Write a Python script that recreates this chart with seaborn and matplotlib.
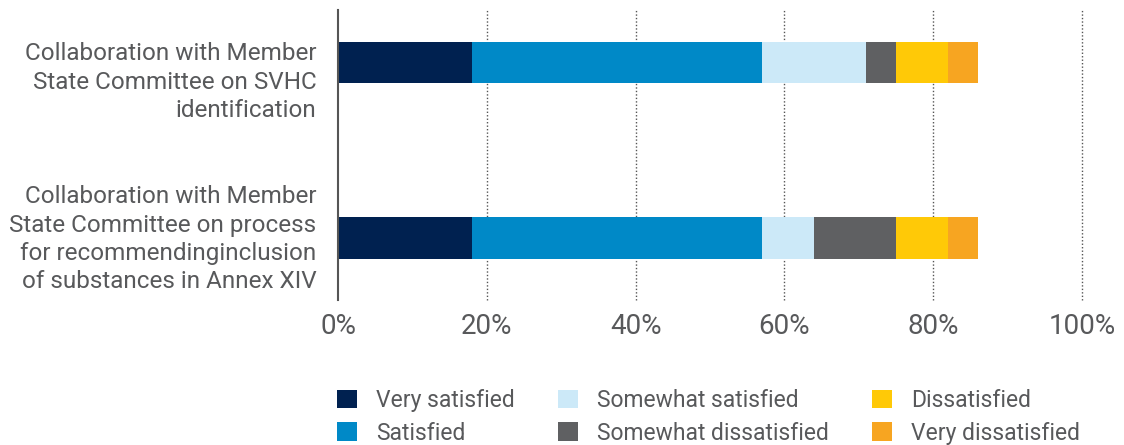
import matplotlib
matplotlib.use("Agg")
import matplotlib.pyplot as plt
from matplotlib.patches import Patch
from matplotlib.transforms import ScaledTranslation
import seaborn as sns
import pandas as pd
import numpy as np

categories = [
    "Collaboration with Member\nState Committee on SVHC\nidentification",
    "Collaboration with Member\nState Committee on process\nfor recommendinginclusion\nof substances in Annex XIV",
]
series_names = ["Very satisfied", "Satisfied", "Somewhat satisfied",
                "Somewhat dissatisfied", "Dissatisfied", "Very dissatisfied"]
very_satisfied = [18, 18]
satisfied = [39, 39]
somewhat_satisfied = [14, 7]
somewhat_dissatisfied = [4, 11]
dissatisfied = [7, 7]
very_dissatisfied = [4, 4]
tick_labels = ["0%", "20%", "40%", "60%", "80%", "100%"]
tick_values = [0, 20, 40, 60, 80, 100]

colors = ["#002150", "#0089c7", "#cce9f8", "#5f6062", "#ffc907", "#f7a521"]
text_color = "#58595b"

sns.set_theme(style="white")
plt.rcParams["font.family"] = ["Roboto", "DejaVu Sans"]

fig = plt.figure(figsize=(11.24, 4.45), dpi=100)
ax = fig.add_axes([338 / 1124, 1 - 300 / 445, 744 / 1124, 290 / 445])

series = [very_satisfied, satisfied, somewhat_satisfied,
          somewhat_dissatisfied, dissatisfied, very_dissatisfied]
cum = np.cumsum(np.array(series, dtype=float), axis=0)

for i in range(len(series) - 1, -1, -1):
    df = pd.DataFrame({"cat": categories, "val": cum[i]})
    sns.barplot(data=df, x="val", y="cat", order=categories, color=colors[i],
                saturation=1, width=0.236, orient="h", ax=ax,
                linewidth=0, errorbar=None)

ax.set_xlim(0, 100)
ax.set_ylim(1.353, -0.299)
ax.set_xlabel("")
ax.set_ylabel("")
ax.set_xticks(tick_values)
ax.set_xticklabels(tick_labels)
ax.tick_params(axis="x", length=0, pad=9, labelsize=20, labelcolor=text_color)
ax.tick_params(axis="y", length=0, pad=15.5, labelsize=17.5, labelcolor=text_color)

for x in tick_values[1:]:
    ax.axvline(x, color="#555555", lw=1, ls=(0, (1, 1.5)), zorder=0, clip_on=False)

for s in ["top", "right", "bottom"]:
    ax.spines[s].set_visible(False)
ax.spines["left"].set_color("#555555")
ax.spines["left"].set_linewidth(1.5)

labels = ax.get_yticklabels()
for lab in labels:
    lab.set_linespacing(1.3)
labels[0].set_va("top")
labels[0].set_transform(labels[0].get_transform() +
                        ScaledTranslation(0, 0.20, fig.dpi_scale_trans))
labels[1].set_transform(labels[1].get_transform() +
                        ScaledTranslation(0, 0.04, fig.dpi_scale_trans))

handles = [Patch(facecolor=c, edgecolor="none", label=n) for c, n in zip(colors, series_names)]
leg = fig.legend(handles=handles, ncol=3, loc="upper left",
                 bbox_to_anchor=(337 / 1124, 1 - 389 / 445), frameon=False,
                 fontsize=16.5, handlelength=0.87, handleheight=0.87,
                 handletextpad=0.83, columnspacing=1.88, labelspacing=0.42,
                 borderpad=0, borderaxespad=0)
for t in leg.get_texts():
    t.set_color(text_color)

fig.savefig("out.png", dpi=100)
